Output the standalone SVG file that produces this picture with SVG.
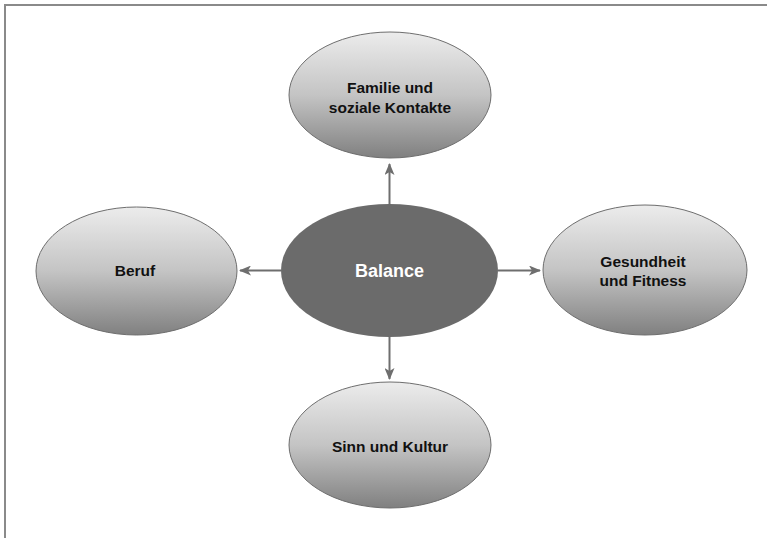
<svg xmlns="http://www.w3.org/2000/svg" width="767" height="538" viewBox="0 0 767 538">
<style>
.sat{fill:url(#g);stroke:#6e6e6e;stroke-width:1}
.t{font-family:"Liberation Sans",Arial,sans-serif;font-weight:bold;font-size:15.5px;fill:#111;text-anchor:middle}
.c{font-family:"Liberation Sans",Arial,sans-serif;font-weight:bold;font-size:18px;fill:#fff;text-anchor:middle}
.a{stroke:#6e6e6e;stroke-width:2;fill:none;marker-end:url(#m)}
</style>
<defs>
<linearGradient id="g" x1="0" y1="0" x2="0" y2="1">
<stop offset="0" stop-color="#ececec"/>
<stop offset="0.5" stop-color="#c4c4c4"/>
<stop offset="1" stop-color="#808080"/>
</linearGradient>
<marker id="m" viewBox="0 0 12 10" refX="11" refY="5" markerWidth="12" markerHeight="10" markerUnits="userSpaceOnUse" orient="auto">
<path d="M0,0 L12,5 L0,10 L3,5 Z" fill="#6e6e6e"/>
</marker>
</defs>
<g id="frame" stroke="#8a8a8a" stroke-width="2" fill="none">
<path d="M5,538 V5 H767"/>
</g>
<g id="connectors">
<line class="a" x1="389.5" y1="204" x2="389.5" y2="164"/>
<line class="a" x1="281" y1="270.5" x2="240" y2="270.5"/>
<line class="a" x1="498" y1="270.5" x2="540" y2="270.5"/>
<line class="a" x1="389.5" y1="337" x2="389.5" y2="379"/>
</g>
<g id="familie">
<ellipse class="sat" cx="390" cy="95" rx="101" ry="63"/>
<text class="t" x="390" y="93">Familie und</text>
<text class="t" x="390" y="113">soziale Kontakte</text>
</g>
<g id="beruf">
<ellipse class="sat" cx="136.5" cy="271" rx="100.5" ry="64"/>
<text class="t" x="135" y="276">Beruf</text>
</g>
<g id="gesundheit">
<ellipse class="sat" cx="645" cy="270" rx="102" ry="65"/>
<text class="t" x="643" y="267">Gesundheit</text>
<text class="t" x="643" y="286">und Fitness</text>
</g>
<g id="sinn">
<ellipse class="sat" cx="390" cy="445" rx="101" ry="63"/>
<text class="t" x="390" y="452">Sinn und Kultur</text>
</g>
<g id="balance">
<ellipse cx="389.5" cy="270.5" rx="108.5" ry="66.5" fill="#6b6b6b"/>
<text class="c" x="389.5" y="277">Balance</text>
</g>
</svg>
